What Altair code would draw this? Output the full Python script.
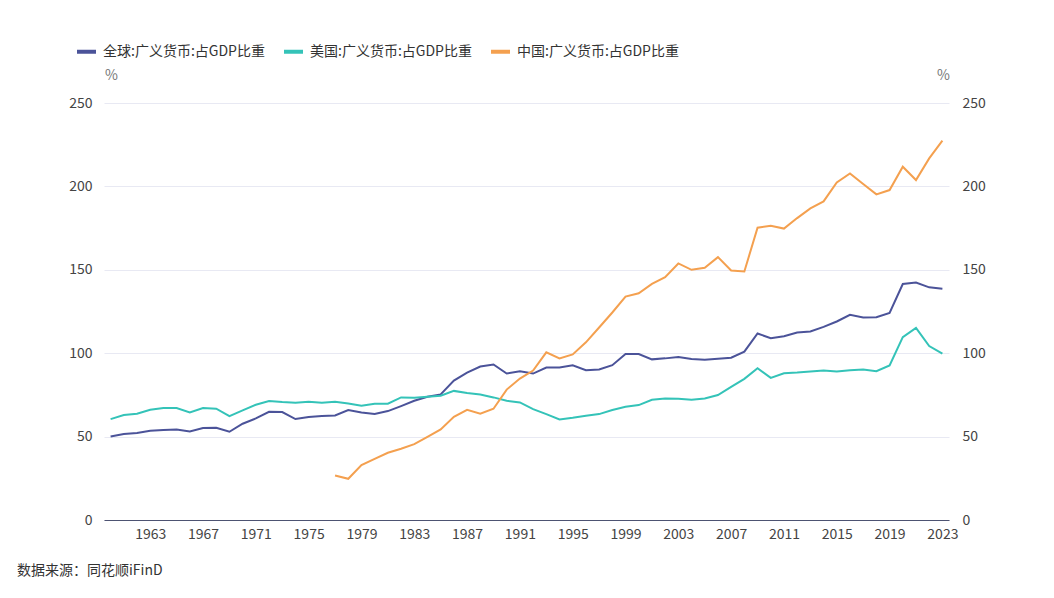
import altair as alt
import pandas as pd

years = list(range(1960, 2024))

global_m2 = [50.1, 51.5, 52.1, 53.5, 53.9, 54.3, 53.1, 55.1, 55.3, 52.9,
             57.7, 60.9, 64.9, 64.7, 60.5, 61.7, 62.3, 62.7, 65.9, 64.5,
             63.5, 65.3, 68.3, 71.5, 73.9, 75.3, 83.6, 88.4, 92.0, 93.2,
             87.8, 89.2, 87.8, 91.4, 91.4, 92.8, 89.8, 90.2, 92.8, 99.5,
             99.5, 96.3, 96.9, 97.7, 96.5, 96.1, 96.7, 97.3, 100.9, 111.8,
             109.0, 110.2, 112.4, 113.0, 115.8, 119.0, 123.0, 121.4, 121.6, 124.2,
             141.5, 142.4, 139.5, 138.7]

us_m2 = [60.5, 62.9, 63.7, 66.1, 67.1, 67.1, 64.5, 67.1, 66.7, 62.3,
         65.7, 69.1, 71.3, 70.7, 70.3, 70.9, 70.3, 70.9, 69.9, 68.5,
         69.7, 69.7, 73.5, 73.3, 73.9, 74.5, 77.4, 76.2, 75.3, 73.5,
         71.5, 70.5, 66.5, 63.5, 60.3, 61.3, 62.5, 63.5, 65.9, 67.9,
         68.9, 72.1, 72.9, 72.7, 72.1, 72.9, 74.9, 79.8, 84.6, 91.0,
         85.2, 88.0, 88.4, 89.0, 89.6, 89.0, 89.8, 90.2, 89.2, 92.7,
         109.6, 115.2, 104.3, 99.7]

china_years = list(range(1977, 2024))
china_m2 = [26.7, 24.7, 32.9,
            36.7, 40.3, 42.7, 45.5, 49.9, 54.3, 61.9, 66.1, 63.7, 66.7,
            78.2, 84.8, 89.6, 100.5, 96.9, 99.3, 106.5, 115.4, 124.4, 133.9,
            135.9, 141.5, 145.6, 153.8, 150.0, 151.2, 157.6, 149.6, 149.0, 175.2,
            176.4, 174.7, 181.0, 186.8, 191.0, 202.4, 207.8, 201.4, 195.2, 197.8,
            211.8, 203.8, 216.8, 227.4]

series_names = ["全球:广义货币:占GDP比重", "美国:广义货币:占GDP比重", "中国:广义货币:占GDP比重"]
series_colors = ["#4b5399", "#34c3b8", "#f4a04f"]
x_ticks = list(range(1963, 2024, 4))
y_ticks = [0, 50, 100, 150, 200, 250]
source_text = "数据来源：同花顺iFinD"

df_left = pd.DataFrame({
    "year": years * 2,
    "value": global_m2 + us_m2,
    "series": [series_names[0]] * len(years) + [series_names[1]] * len(years),
})
df_right = pd.DataFrame({
    "year": china_years,
    "value": china_m2,
    "series": [series_names[2]] * len(china_years),
})

FONT = "Noto Sans CJK SC"

x_enc = alt.X("year:Q",
              scale=alt.Scale(domain=[1959.5, 2023.5], nice=False, zero=False),
              axis=alt.Axis(values=x_ticks, format="d", title=None, grid=False,
                            ticks=False, domainColor="#4d5372", domainWidth=1,
                            labelPadding=7, labelFontSize=14, labelColor="#444444",
                            labelFont=FONT, labelFlush=False))

color_enc = alt.Color("series:N",
                      scale=alt.Scale(domain=series_names, range=series_colors),
                      legend=alt.Legend(orient="none", legendX=-29, legendY=-63,
                                        direction="horizontal", title=None,
                                        symbolType="stroke", symbolSize=361,
                                        symbolStrokeWidth=4, labelOffset=5,
                                        columnPadding=11, labelFontSize=14,
                                        labelColor="#333333", labelFont=FONT,
                                        labelLimit=400, padding=0))

left = alt.Chart(df_left).mark_line(strokeWidth=2).encode(
    x=x_enc,
    y=alt.Y("value:Q", scale=alt.Scale(domain=[0, 250], nice=False),
            axis=alt.Axis(orient="left", values=y_ticks, title="%", titleAngle=0,
                          titleX=7, titleY=-28, titleAlign="center",
                          titleBaseline="middle", titleColor="#777777",
                          titleFontSize=14, titleFontWeight="normal", titleFont=FONT,
                          ticks=False, domain=False, labelPadding=12,
                          labelFontSize=14, labelColor="#444444", labelFont=FONT,
                          gridColor="#e8e9f3", gridWidth=1)),
    color=color_enc,
)

right = alt.Chart(df_right).mark_line(strokeWidth=2).encode(
    x=x_enc,
    y=alt.Y("value:Q", scale=alt.Scale(domain=[0, 250], nice=False),
            axis=alt.Axis(orient="right", values=y_ticks, title="%", titleAngle=0,
                          titleX=-6, titleY=-28, titleAlign="center",
                          titleBaseline="middle", titleColor="#777777",
                          titleFontSize=14, titleFontWeight="normal", titleFont=FONT,
                          ticks=False, domain=False, grid=False, labelPadding=13,
                          labelFontSize=14, labelColor="#444444", labelFont=FONT)),
    color=color_enc,
)

source = alt.Chart(pd.DataFrame({"t": [source_text]})).mark_text(
    align="left", baseline="middle", fontSize=14, font=FONT, color="#333333"
).encode(x=alt.value(-87), y=alt.value(468), text="t:N")

chart = alt.layer(left, right, source).resolve_scale(y="independent").properties(
    width=845, height=417,
    autosize=alt.AutoSizeParams(type="none"),
    padding={"left": 96, "top": 95, "right": 80, "bottom": 60},
).configure_view(stroke=None)

chart.save("out.html", embed_options={"renderer": "svg", "actions": False})
